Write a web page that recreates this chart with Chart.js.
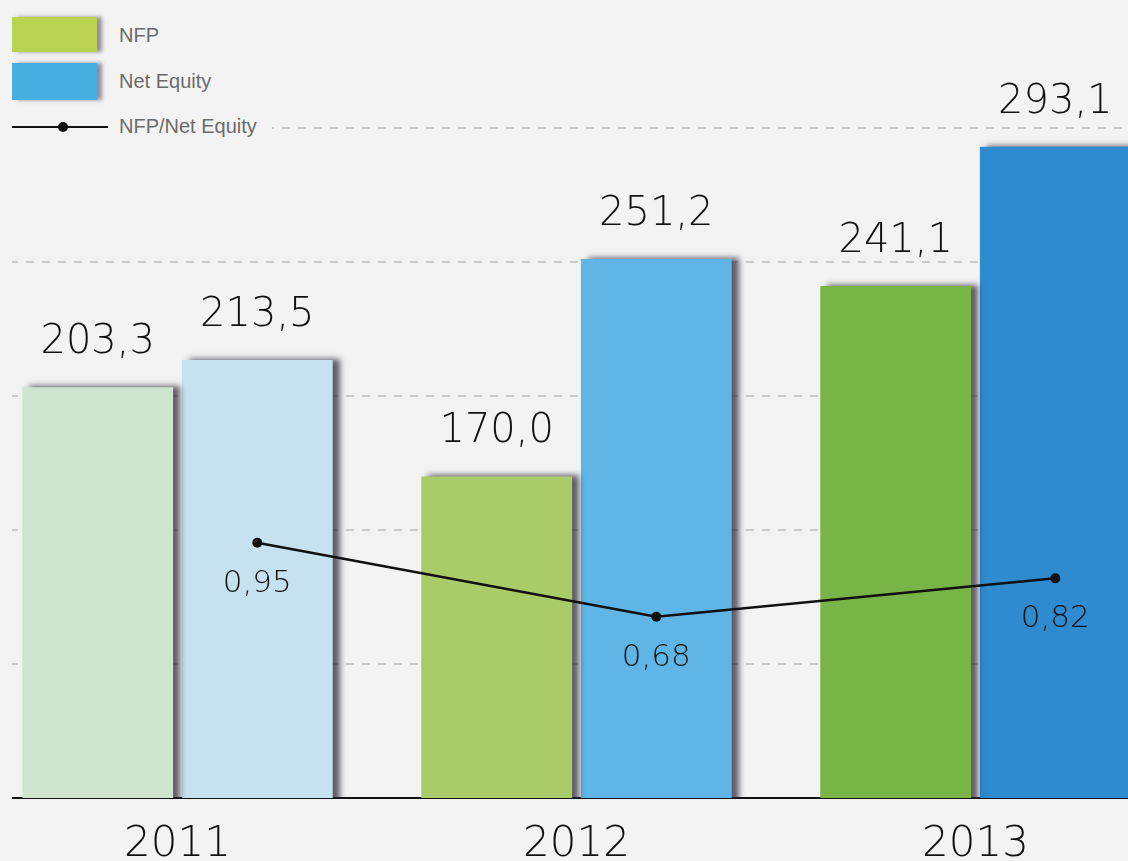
<!DOCTYPE html>
<html>
<head>
<meta charset="utf-8">
<script src="https://cdn.jsdelivr.net/npm/chart.js@4.4.1/dist/chart.umd.min.js"></script>
<style>
  html, body { margin: 0; padding: 0; background: #f3f3f3; overflow: hidden; }
  body { width: 1128px; height: 861px; position: relative; font-family: "Liberation Sans", Arial, sans-serif; }
  #wrap { position: absolute; left: 12px; top: 0; width: 1116px; height: 861px; overflow: hidden; }
  #wrap canvas { position: absolute; left: -39px; top: 0; }
  #legenda { position: absolute; left: 0; top: 0; width: 272px; height: 140px; background: #f3f3f3; }
  #legenda div { position: absolute; }
  .box { left: 12px; width: 85px; box-shadow: 5px 0 4px rgba(70, 55, 80, 0.55); }
  .testo { left: 119px; font-size: 20px; color: #6b6b6b; line-height: 24px; white-space: nowrap; }
</style>
</head>
<body>
<div id="wrap"><canvas id="grafico" width="1207" height="861"></canvas></div>
<div id="legenda">
  <div class="box" style="top:17px;height:35px;background:#b9d24f"></div>
  <div class="testo" style="top:23px">NFP</div>
  <div class="box" style="top:63px;height:37px;background:#45b0e0"></div>
  <div class="testo" style="top:69px">Net Equity</div>
  <div style="left:12px;top:126px;width:96px;height:2px;background:#111"></div>
  <div style="left:58px;top:122px;width:10px;height:10px;border-radius:50%;background:#111"></div>
  <div class="testo" style="top:114px">NFP/Net Equity</div>
</div>
<script>
const anni = ['2011', '2012', '2013'];
const nfp = [203.3, 170.0, 241.1];
const patrimonioNetto = [213.5, 251.2, 293.1];
const rapporto = [0.95, 0.68, 0.82];
const lineeGriglia = [100, 150, 200, 250, 300];

const coloriNfp = ['#cfe4cf', '#a9cb68', '#79b446'];
const coloriPatrimonio = ['#c6e2f1', '#5fb6e6', '#2e8bd0'];
const fontNumeri = '"DejaVu Sans"';

function virgola(v, dec) {
    return v.toFixed(dec).replace('.', ',');
}

// ombra scura sul lato destro delle barre
const ombra = {
    id: 'ombra',
    beforeDatasetDraw(chart, args) {
        if (args.meta.type !== 'bar') return;
        const ctx = chart.ctx;
        ctx.save();
        ctx.shadowColor = 'rgba(45, 40, 55, 0.75)';
        ctx.shadowBlur = 6;
        ctx.shadowOffsetX = 7;
        ctx.shadowOffsetY = -1;
    },
    afterDatasetDraw(chart, args) {
        if (args.meta.type === 'bar') chart.ctx.restore();
    }
};

// i punti del rapporto stanno sopra le barre Net Equity
const allinea = {
    id: 'allinea',
    afterDatasetsUpdate(chart) {
        const barre = chart.getDatasetMeta(2).data;
        chart.getDatasetMeta(0).data.forEach((p, i) => { p.x = barre[i].x; });
    }
};

const etichette = {
    id: 'etichette',
    afterDatasetsDraw(chart) {
        const ctx = chart.ctx;
        ctx.save();
        ctx.fillStyle = '#111';
        ctx.textAlign = 'center';
        ctx.textBaseline = 'alphabetic';
        ctx.font = '200 40px ' + fontNumeri;
        [[1, nfp], [2, patrimonioNetto]].forEach(([d, valori]) => {
            chart.getDatasetMeta(d).data.forEach((b, i) => {
                ctx.fillText(virgola(valori[i], 1), b.x, b.y - 34);
            });
        });
        ctx.font = '200 31px ' + fontNumeri;
        ctx.textBaseline = 'middle';
        chart.getDatasetMeta(0).data.forEach((p, i) => {
            ctx.fillText(virgola(rapporto[i], 2), p.x, p.y + 41);
        });
        ctx.restore();
    }
};

new Chart(document.getElementById('grafico'), {
    data: {
        labels: anni,
        datasets: [
            {
                type: 'line',
                label: 'NFP/Net Equity',
                data: rapporto,
                yAxisID: 'yRapporto',
                borderColor: '#111',
                borderWidth: 2.5,
                pointRadius: 5,
                pointBackgroundColor: '#111',
                pointBorderWidth: 0,
                tension: 0,
                order: 0
            },
            {
                type: 'bar',
                label: 'NFP',
                data: nfp,
                backgroundColor: coloriNfp,
                categoryPercentage: 0.8,
                barPercentage: 0.945,
                order: 1
            },
            {
                type: 'bar',
                label: 'Net Equity',
                data: patrimonioNetto,
                backgroundColor: coloriPatrimonio,
                categoryPercentage: 0.8,
                barPercentage: 0.945,
                order: 1
            }
        ]
    },
    options: {
        responsive: false,
        animation: false,
        layout: { padding: { top: 21, left: 0, right: 0, bottom: 0 } },
        plugins: {
            legend: { display: false },
            tooltip: { enabled: false }
        },
        scales: {
            x: {
                grid: { display: false, drawTicks: false },
                border: { display: true, color: '#111', width: 2 },
                ticks: {
                    color: '#111',
                    padding: 22,
                    font: { family: 'DejaVu Sans', size: 42, weight: '200' }
                },
                afterFit: s => { s.height = 63; }
            },
            y: {
                min: 50,
                max: 340,
                afterBuildTicks: s => { s.ticks = lineeGriglia.map(v => ({ value: v })); },
                ticks: { display: false },
                grid: { color: '#c9c9c9', lineWidth: 2, drawTicks: false },
                border: { display: false, dash: [8, 8] },
                afterFit: s => { s.width = 0; }
            },
            yRapporto: {
                display: false,
                min: 0.02,
                max: 2.85
            }
        }
    },
    plugins: [ombra, allinea, etichette]
});
</script>
</body>
</html>
